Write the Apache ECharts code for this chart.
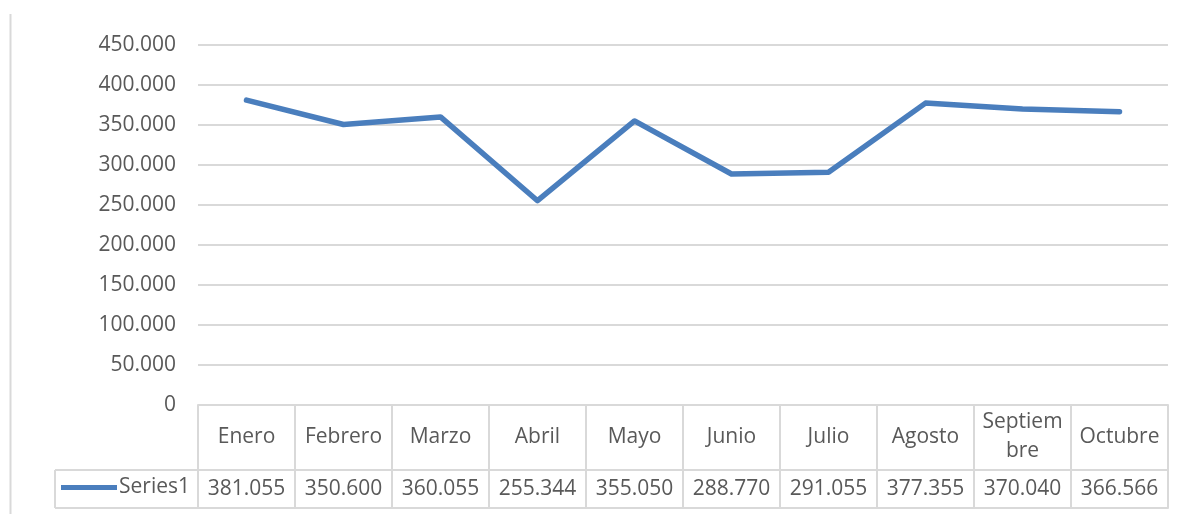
<!DOCTYPE html>
<html>
<head>
<meta charset="utf-8">
<script src="https://cdn.jsdelivr.net/npm/echarts@6/dist/echarts.min.js"></script>
<style>
html,body{margin:0;padding:0;background:#fff;}
#chart{width:1187px;height:514px;}
</style>
</head>
<body>
<div id="chart"></div>
<script>
const categories = ['Enero','Febrero','Marzo','Abril','Mayo','Junio','Julio','Agosto','Septiembre','Octubre'];
const series1 = [381055, 350600, 360055, 255344, 355050, 288770, 291055, 377355, 370040, 366566];
const seriesName = 'Series1';
const yTicks = { min: 0, max: 450000, interval: 50000 };

function fmt(v){
  if (v === 0) return '0';
  return String(v).replace(/\B(?=(\d{3})+(?!\d))/g, '.');
}
function catLabel(c){
  return c === 'Septiembre' ? 'Septiem\nbre' : c;
}

const FONT = 'Open Sans';
const FS = 21;
const GRAY = '#595959';
const LINE = '#d9d9d9';
const BLUE = '#4a7ebd';

const chart = echarts.init(document.getElementById('chart'));
const GL = 198, GR = 19, GT = 45, GB = 109;
const H = 514, W = 1187;
const y0 = H - GB;           // 405
const rowLine = y0 + 65;     // 470
const bottomLine = y0 + 103; // 508
const legendLeft = 55;

chart.setOption({
  animation: false,
  backgroundColor: '#fff',
  grid: { left: GL, right: GR, top: GT, bottom: GB, containLabel: false },
  legend: {
    data: [seriesName],
    left: 61, top: 477, padding: 0,
    icon: 'rect', itemWidth: 56, itemHeight: 5,
    textStyle: { color: GRAY, fontFamily: FONT, fontSize: FS, padding: [0,0,0,-3] }
  },
  xAxis: [
    {
      type: 'category', data: categories, boundaryGap: true, position: 'bottom',
      axisLine: { show: true, lineStyle: { color: LINE, width: 2 } },
      axisTick: { show: true, length: 65, lineStyle: { color: LINE, width: 2 } },
      axisLabel: {
        margin: 32, color: GRAY, fontFamily: FONT, fontSize: FS, lineHeight: 29,
        verticalAlign: 'middle', interval: 0, formatter: v => catLabel(v)
      },
      splitLine: { show: false }
    },
    {
      type: 'category', data: categories, boundaryGap: true, position: 'bottom', offset: 65,
      axisLine: { show: true, lineStyle: { color: LINE, width: 2 } },
      axisTick: { show: true, length: 38, lineStyle: { color: LINE, width: 2 } },
      axisLabel: {
        margin: 19, color: GRAY, fontFamily: FONT, fontSize: FS,
        verticalAlign: 'middle', interval: 0,
        formatter: (v, i) => fmt(series1[i])
      }
    },
    {
      type: 'category', data: categories, boundaryGap: true, position: 'bottom', offset: 103,
      axisLine: { show: true, lineStyle: { color: LINE, width: 2 } },
      axisTick: { show: false }, axisLabel: { show: false }
    }
  ],
  yAxis: {
    type: 'value', min: yTicks.min, max: yTicks.max, interval: yTicks.interval,
    axisLine: { show: false }, axisTick: { show: false },
    axisLabel: { margin: 22, color: GRAY, fontFamily: FONT, fontSize: FS, formatter: v => fmt(v) },
    splitLine: { show: true, lineStyle: { color: LINE, width: 2 } }
  },
  series: [{
    name: seriesName, type: 'line', data: series1, xAxisIndex: 0,
    symbol: 'none', smooth: false,
    lineStyle: { color: BLUE, width: 5.5, cap: 'round', join: 'round' },
    itemStyle: { color: BLUE }
  }],
  graphic: [
    { type: 'line', shape: { x1: 10.5, y1: 14, x2: 10.5, y2: H }, style: { stroke: LINE, lineWidth: 2 }, silent: true },
    { type: 'line', shape: { x1: legendLeft, y1: rowLine, x2: GL, y2: rowLine }, style: { stroke: LINE, lineWidth: 2 }, silent: true },
    { type: 'line', shape: { x1: legendLeft, y1: bottomLine, x2: GL, y2: bottomLine }, style: { stroke: LINE, lineWidth: 2 }, silent: true },
    { type: 'line', shape: { x1: legendLeft, y1: rowLine, x2: legendLeft, y2: bottomLine }, style: { stroke: LINE, lineWidth: 2 }, silent: true }
  ]
});
</script>
</body>
</html>
